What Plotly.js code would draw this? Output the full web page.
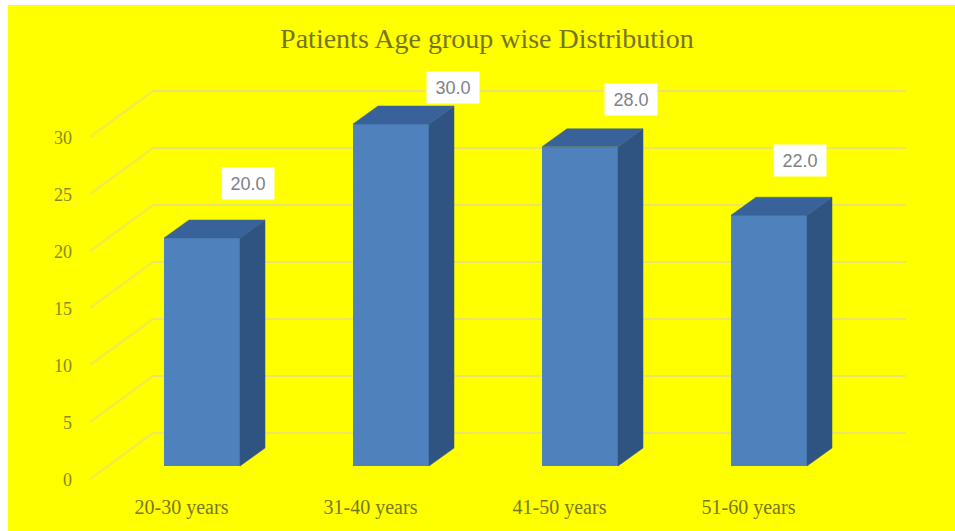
<!DOCTYPE html>
<html><head><meta charset="utf-8">
<script src="https://cdn.plot.ly/plotly-3.0.1.min.js"></script>
<style>html,body{margin:0;padding:0;background:#fff;overflow:hidden}#c{position:absolute;left:8px;top:5px;width:947px;height:526px}</style>
</head><body><div id="c"></div>
<script>
const categories = ['20-30 years','31-40 years','41-50 years','51-60 years'];
const values = [20,30,28,22];
const valueLabels = ['20.0','30.0','28.0','22.0'];
const yTicks = [0,5,10,15,20,25,30];
const positions = [0,1,2,3];

const W=947,H=526,offX=8,offY=5,plotBottom=493;
const pxPerCat=189, cat0=202, pxPerUnit=11.4, base=466;
const X=p=>(p-cat0)/pxPerCat;
const Y=p=>(base-p)/pxPerUnit;
const xr=[X(offX),X(offX+W)];
const yr=[Y(plotBottom),Y(offY)];
const barW=76/pxPerCat, dx=25/pxPerCat, dy=18/pxPerUnit;
const labelShift=14/pxPerUnit;
const wallDy=33/pxPerUnit, wallXL=X(153), wallXR=X(906), floorXL=X(90), floorDy=-13/pxPerUnit;
const labelPx=[[248,183],[453,87],[631,99],[800,160]];

const traces=[];
// back wall gridlines and their diagonals on the side wall
const hx=[],hy=[],sx=[],sy=[];
yTicks.forEach(v=>{
  hx.push(wallXL,wallXR,null); hy.push(v+wallDy,v+wallDy,null);
  sx.push(floorXL,wallXL,null); sy.push(v+floorDy,v+wallDy,null);
});
traces.push({type:'scatter',mode:'lines',x:sx,y:sy,line:{color:'#f0ec45',width:2.5},hoverinfo:'skip',showlegend:false});
traces.push({type:'scatter',mode:'lines',x:hx,y:hy,line:{color:'#e9e568',width:2.2},hoverinfo:'skip',showlegend:false});
// invisible trace so the tick-label axis is live
traces.push({type:'scatter',mode:'markers',x:[0],y:[0],yaxis:'y2',marker:{opacity:0},hoverinfo:'skip',showlegend:false});
// bars: front via bar trace, side and top faces from the same values
traces.push({type:'bar',x:positions,y:values,yaxis:'y3',width:barW,marker:{color:'#4f81bd',line:{width:0}},hoverinfo:'x+y',showlegend:false});
values.forEach((v,i)=>{
  const r=positions[i]+barW/2,l=positions[i]-barW/2;
  traces.push({type:'scatter',mode:'lines',yaxis:'y3',x:[r,r+dx,r+dx,r,r],y:[0,dy,v+dy,v,0],fill:'toself',fillcolor:'#2f5482',line:{color:'#2f5482',width:0.5},hoverinfo:'skip',showlegend:false});
  traces.push({type:'scatter',mode:'lines',yaxis:'y3',x:[l,l+dx,r+dx,r,l],y:[v,v+dy,v+dy,v,v],fill:'toself',fillcolor:'#386299',line:{color:'#386299',width:0.5},hoverinfo:'skip',showlegend:false});
});

const annotations=values.map((v,i)=>({
  x:X(labelPx[i][0]),y:Y(labelPx[i][1]),yref:'y3',
  text:valueLabels[i],showarrow:false,bgcolor:'#ffffff',width:52,height:31,
  font:{family:'Liberation Sans, Arial, sans-serif',size:18,color:'#808088'},
  xanchor:'center',yanchor:'middle',borderpad:0
}));

const serif='Liberation Serif, Times New Roman, serif';
const layout={
  width:W,height:H,margin:{l:0,r:0,t:0,b:offY+H-plotBottom},
  paper_bgcolor:'#ffff00',plot_bgcolor:'rgba(0,0,0,0)',
  title:{text:'Patients Age group wise Distribution',font:{family:serif,size:28,color:'#757520'},x:(487-offX)/W,xanchor:'center',y:1-(38-offY)/H,yanchor:'middle'},
  xaxis:{type:'linear',range:xr,showgrid:false,zeroline:false,showline:false,ticks:'',
    tickvals:positions.map(p=>p-20.5/pxPerCat),ticktext:categories,tickfont:{family:serif,size:20,color:'#77771f'}},
  yaxis:{range:yr,showgrid:false,zeroline:false,showline:false,showticklabels:false,ticks:''},
  yaxis2:{range:[yr[0]+labelShift,yr[1]+labelShift],overlaying:'y',anchor:'free',position:(72-offX)/W,side:'left',
    tickvals:yTicks,ticktext:yTicks.map(String),showgrid:false,zeroline:false,showline:false,ticks:'',
    tickfont:{family:serif,size:18,color:'#8a8a20'}},
  yaxis3:{range:yr,overlaying:'y',showgrid:false,zeroline:false,showline:false,showticklabels:false,ticks:''},
  annotations:annotations,
  bargap:0
};
Plotly.newPlot('c',traces,layout,{displayModeBar:false,staticPlot:true});
</script></body></html>
